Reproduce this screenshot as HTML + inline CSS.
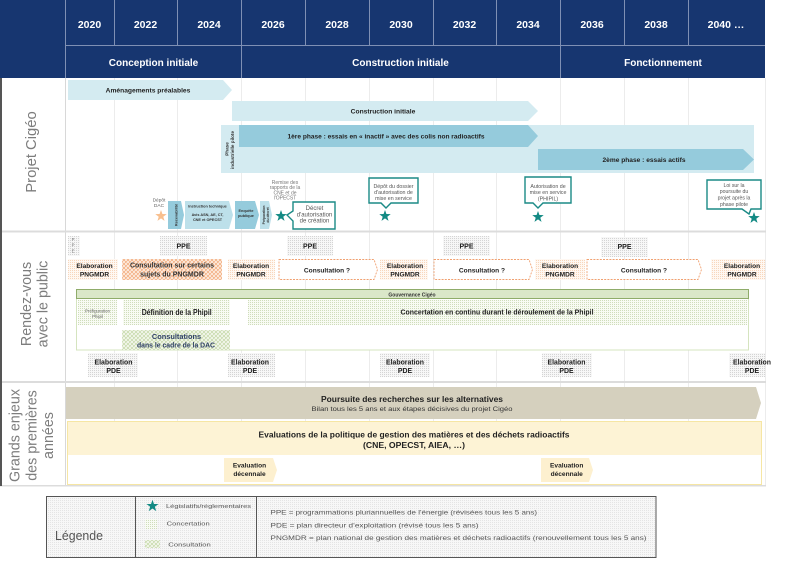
<!DOCTYPE html>
<html><head><meta charset="utf-8"><style>
html,body{margin:0;padding:0;background:#fff;}
body{width:800px;height:559px;overflow:hidden;}
svg text{font-family:"Liberation Sans",Arial,sans-serif;}
.b{font-weight:bold;}
</style></head><body>
<svg width="800" height="559" viewBox="0 0 800 559" xmlns="http://www.w3.org/2000/svg">
<defs>
<pattern id="dg" width="2" height="2" patternUnits="userSpaceOnUse"><rect width="2" height="2" fill="#f7f7f7"/><rect width="1" height="1" fill="#d4d4d4"/></pattern>
<pattern id="dl" width="2" height="2" patternUnits="userSpaceOnUse"><rect width="2" height="2" fill="#f7f7f7"/><rect width="1" height="1" fill="#e4e4e4"/></pattern>
<pattern id="do" width="2" height="2" patternUnits="userSpaceOnUse"><rect width="2" height="2" fill="#fff8f2"/><rect width="1" height="1" fill="#f7d6bc"/></pattern>
<pattern id="dgr" width="2" height="2" patternUnits="userSpaceOnUse"><rect width="2" height="2" fill="#f8fbf3"/><rect width="1" height="1" fill="#cfdcbb"/></pattern>
<pattern id="ho" width="4" height="4" patternUnits="userSpaceOnUse"><rect width="4" height="4" fill="#fdeee2"/><path d="M0,4L4,0M-1,1L1,-1M3,5L5,3M0,0L4,4M-1,3L1,5M3,-1L5,1" stroke="#f2a878" stroke-width="0.7"/></pattern>
<pattern id="hg" width="4" height="4" patternUnits="userSpaceOnUse"><rect width="4" height="4" fill="#f3f7ec"/><path d="M0,4L4,0M-1,1L1,-1M3,5L5,3M0,0L4,4M-1,3L1,5M3,-1L5,1" stroke="#bcd29b" stroke-width="0.6"/></pattern>
</defs>

<!-- HEADER -->
<rect x="0" y="0" width="765" height="78" fill="#173670"/>
<g stroke="#7f90b4" stroke-width="1">
<line x1="65.5" y1="0" x2="65.5" y2="78"/>
<line x1="114.5" y1="0" x2="114.5" y2="45"/>
<line x1="177.5" y1="0" x2="177.5" y2="45"/>
<line x1="241.5" y1="0" x2="241.5" y2="78"/>
<line x1="305.5" y1="0" x2="305.5" y2="45"/>
<line x1="369.5" y1="0" x2="369.5" y2="45"/>
<line x1="433.5" y1="0" x2="433.5" y2="45"/>
<line x1="496.5" y1="0" x2="496.5" y2="45"/>
<line x1="560.5" y1="0" x2="560.5" y2="78"/>
<line x1="624.5" y1="0" x2="624.5" y2="45"/>
<line x1="688.5" y1="0" x2="688.5" y2="45"/>
<line x1="65" y1="45.5" x2="765" y2="45.5"/>
</g>
<g fill="#fff" font-size="10.5" text-anchor="middle" font-weight="bold">
<text x="89.5" y="28">2020</text>
<text x="145.5" y="28">2022</text>
<text x="209" y="28">2024</text>
<text x="273" y="28">2026</text>
<text x="337" y="28">2028</text>
<text x="401" y="28">2030</text>
<text x="464.5" y="28">2032</text>
<text x="528" y="28">2034</text>
<text x="592" y="28">2036</text>
<text x="656" y="28">2038</text>
<text x="726" y="28">2040 …</text>
</g>
<g fill="#fff" font-size="10" text-anchor="middle" font-weight="bold">
<text x="153.5" y="66">Conception initiale</text>
<text x="400.5" y="66">Construction initiale</text>
<text x="663" y="66">Fonctionnement</text>
</g>

<!-- BODY GRID -->
<g stroke="#ececec" stroke-width="1">
<line x1="114.5" y1="78" x2="114.5" y2="486"/>
<line x1="177.5" y1="78" x2="177.5" y2="486"/>
<line x1="241.5" y1="78" x2="241.5" y2="486"/>
<line x1="305.5" y1="78" x2="305.5" y2="486"/>
<line x1="369.5" y1="78" x2="369.5" y2="486"/>
<line x1="433.5" y1="78" x2="433.5" y2="486"/>
<line x1="496.5" y1="78" x2="496.5" y2="486"/>
<line x1="560.5" y1="78" x2="560.5" y2="486"/>
<line x1="624.5" y1="78" x2="624.5" y2="486"/>
<line x1="688.5" y1="78" x2="688.5" y2="486"/>
<line x1="765.5" y1="78" x2="765.5" y2="486"/>
</g>
<line x1="65.5" y1="78" x2="65.5" y2="486" stroke="#d8d8d8"/>
<rect x="0" y="230.5" width="766" height="2" fill="#dcdcdc"/>
<rect x="0" y="381" width="766" height="2" fill="#dcdcdc"/>
<rect x="0" y="485" width="766" height="1.5" fill="#dcdcdc"/>
<rect x="0" y="78" width="2" height="408" fill="#555"/>

<!-- SECTION LABELS -->
<g fill="#7d7d7d" font-size="14.8">
<text transform="translate(36,152) rotate(-90)" text-anchor="middle">Projet Cigéo</text>
</g>
<g fill="#7d7d7d" font-size="14.3" text-anchor="middle">
<text transform="translate(31,304) rotate(-90)">Rendez-vous</text>
<text transform="translate(47.5,304) rotate(-90)">avec le public</text>
<text transform="translate(19.5,435.5) rotate(-90)">Grands enjeux</text>
<text transform="translate(36.5,435.5) rotate(-90)">des premières</text>
<text transform="translate(53,435.5) rotate(-90)">années</text>
</g>

<!-- PROJET CIGEO -->
<polygon points="68,80 223,80 232,90 223,100 68,100" fill="#d4ebf1"/>
<text x="148" y="92.5" font-size="6.7" font-weight="bold" text-anchor="middle" fill="#222">Aménagements préalables</text>
<polygon points="232,101 528,101 538,111 528,121 232,121" fill="#d4ebf1"/>
<text x="383" y="113.5" font-size="6.7" font-weight="bold" text-anchor="middle" fill="#222">Construction initiale</text>
<rect x="221" y="125" width="533" height="48" fill="#d4ebf1"/>
<polygon points="239,125 528,125 538,136 528,147 239,147" fill="#95cbdc"/>
<text x="386" y="138.5" font-size="6.4" font-weight="bold" text-anchor="middle" fill="#222" textLength="197" lengthAdjust="spacingAndGlyphs">1ère phase : essais en « inactif » avec des colis non radioactifs</text>
<polygon points="538,149 743,149 754,159.5 743,170 538,170" fill="#95cbdc"/>
<text x="644" y="162" font-size="6.4" font-weight="bold" text-anchor="middle" fill="#222" textLength="83" lengthAdjust="spacingAndGlyphs">2ème phase : essais actifs</text>
<g font-size="4.6" font-weight="bold" fill="#333" text-anchor="middle">
<text transform="translate(228.5,149) rotate(-90)">Phase</text>
<text transform="translate(234,150) rotate(-90)">industrielle pilote</text>
</g>

<!-- DAC steps -->
<g fill="#666" font-size="4.8" text-anchor="middle">
<text x="159" y="201.5">Dépôt</text>
<text x="159" y="207">DAC</text>
</g>
<polygon transform="translate(161,216)" points="0,-6 1.41,-1.94 5.71,-1.85 2.28,0.74 3.53,4.85 0,2.4 -3.53,4.85 -2.28,0.74 -5.71,-1.85 -1.41,-1.94" fill="#f8bf8e"/>
<polygon points="168,201 181,201 184,215 181,229 168,229" fill="#95cbdc"/>
<polygon points="185,201 229,201 233,215 229,229 185,229" fill="#bde0ea"/>
<polygon points="235,201 255,201 259,215 255,229 235,229" fill="#95cbdc"/>
<polygon points="260,201 269,201 272,215 269,229 260,229" fill="#bde0ea"/>
<g fill="#333" font-weight="bold" text-anchor="middle">
<text transform="translate(177.5,215) rotate(-90)" font-size="3.8">Recevabilité</text>
<text x="207.5" y="207.5" font-size="3.8">Instruction technique</text>
<text x="207.5" y="216" font-size="3.8">Avis ASN, AE, CT,</text>
<text x="207.5" y="221" font-size="3.8">CNE et OPECST</text>
<text x="246" y="212" font-size="3.8">Enquête</text>
<text x="246" y="217" font-size="3.8">publique</text>
<text transform="translate(265,215) rotate(-90)" font-size="3.4">Préparation</text>
<text transform="translate(269,215) rotate(-90)" font-size="3.4">du décret</text>
</g>
<g fill="#777" font-size="5" text-anchor="middle">
<text x="285" y="184">Remise des</text>
<text x="285" y="189.2">rapports de la</text>
<text x="285" y="194.4">CNE et de</text>
<text x="285" y="199.6">l'OPECST</text>
</g>
<polygon transform="translate(281,216)" points="0,-6 1.41,-1.94 5.71,-1.85 2.28,0.74 3.53,4.85 0,2.4 -3.53,4.85 -2.28,0.74 -5.71,-1.85 -1.41,-1.94" fill="#138a84"/>
<path d="M293,202 H335 V229 H293 V221 L287,215 L293,211 Z" fill="#fff" stroke="#1b8a86" stroke-width="1.4"/>
<g fill="#555" font-size="6" text-anchor="middle">
<text x="314.5" y="210">Décret</text>
<text x="314.5" y="216.3">d'autorisation</text>
<text x="314.5" y="222.6">de création</text>
</g>

<path d="M369,178 H418 V203 H391 L386,208 L381,203 H369 Z" fill="#fff" stroke="#1b8a86" stroke-width="1.4"/>
<g fill="#555" font-size="5.3" text-anchor="middle">
<text x="393.5" y="188">Dépôt du dossier</text>
<text x="393.5" y="194">d'autorisation de</text>
<text x="393.5" y="200">mise en service</text>
</g>
<polygon transform="translate(385,216)" points="0,-6 1.41,-1.94 5.71,-1.85 2.28,0.74 3.53,4.85 0,2.4 -3.53,4.85 -2.28,0.74 -5.71,-1.85 -1.41,-1.94" fill="#138a84"/>

<path d="M525,177 H571 V203 H543 L538,208 L533,203 H525 Z" fill="#fff" stroke="#1b8a86" stroke-width="1.4"/>
<g fill="#555" font-size="5.3" text-anchor="middle">
<text x="548" y="188">Autorisation de</text>
<text x="548" y="194">mise en service</text>
<text x="548" y="200.5">(PHIPIL)</text>
</g>
<polygon transform="translate(538,217)" points="0,-6 1.41,-1.94 5.71,-1.85 2.28,0.74 3.53,4.85 0,2.4 -3.53,4.85 -2.28,0.74 -5.71,-1.85 -1.41,-1.94" fill="#138a84"/>

<path d="M707,180 H761 V209 H751 L749,214 L742,209 H707 Z" fill="#fff" stroke="#1b8a86" stroke-width="1.4"/>
<g fill="#555" font-size="5.2" text-anchor="middle">
<text x="734" y="187">Loi sur la</text>
<text x="734" y="193">poursuite du</text>
<text x="734" y="199.5">projet après la</text>
<text x="734" y="206">phase pilote</text>
</g>
<polygon transform="translate(754,218)" points="0,-6 1.41,-1.94 5.71,-1.85 2.28,0.74 3.53,4.85 0,2.4 -3.53,4.85 -2.28,0.74 -5.71,-1.85 -1.41,-1.94" fill="#138a84"/>

<!-- RENDEZ-VOUS -->
<rect x="68" y="236" width="12" height="20" fill="url(#dg)"/>
<g fill="#777" font-size="4.2" text-anchor="middle">
<text x="73" y="241">P</text><text x="73" y="246.5">P</text><text x="73" y="252.5">E</text>
</g>
<rect x="160" y="236" width="47" height="20" fill="url(#dg)"/>
<rect x="287" y="236" width="46" height="20" fill="url(#dg)"/>
<rect x="443" y="236" width="47" height="20" fill="url(#dg)"/>
<rect x="601" y="237" width="47" height="20" fill="url(#dg)"/>
<g fill="#222" font-size="7" font-weight="bold" text-anchor="middle">
<text x="183.5" y="248.5">PPE</text>
<text x="310" y="248.5">PPE</text>
<text x="466.5" y="248.5">PPE</text>
<text x="624.5" y="249">PPE</text>
</g>

<rect x="68" y="259" width="50" height="21" fill="url(#do)"/>
<rect x="228" y="259" width="47" height="21" fill="url(#do)"/>
<rect x="380" y="259" width="48" height="21" fill="url(#do)"/>
<rect x="535" y="259" width="50" height="21" fill="url(#do)"/>
<rect x="711" y="259" width="54" height="21" fill="url(#do)"/>
<rect x="122" y="259" width="100" height="21" fill="url(#ho)"/>
<g fill="#fff" stroke="#f0a070" stroke-width="0.9" stroke-dasharray="2,1.2">
<polygon points="279,259.5 374,259.5 377.5,269.5 374,279.5 279,279.5"/>
<polygon points="434,259.5 529,259.5 532.5,269.5 529,279.5 434,279.5"/>
<polygon points="587,259.5 698,259.5 701.5,269.5 698,279.5 587,279.5"/>
</g>
<g fill="#222" font-size="6.6" font-weight="bold" text-anchor="middle">
<text x="94.5" y="268">Elaboration</text><text x="94.5" y="276.5">PNGMDR</text>
<text x="251" y="268">Elaboration</text><text x="251" y="276.5">PNGMDR</text>
<text x="405" y="268">Elaboration</text><text x="405" y="276.5">PNGMDR</text>
<text x="560" y="268">Elaboration</text><text x="560" y="276.5">PNGMDR</text>
<text x="742" y="268">Elaboration</text><text x="742" y="276.5">PNGMDR</text>
<text x="327" y="272.5">Consultation ?</text>
<text x="482" y="272.5">Consultation ?</text>
<text x="644" y="272.5">Consultation ?</text>
</g>
<g fill="#333" font-size="7" font-weight="bold" text-anchor="middle">
<text x="172" y="267.5" textLength="84" lengthAdjust="spacingAndGlyphs">Consultation sur certains</text>
<text x="172" y="276.5">sujets du PNGMDR</text>
</g>

<!-- Gouvernance -->
<rect x="76.5" y="289.5" width="672" height="60.5" fill="#fff" stroke="#d5e4bf" stroke-width="1"/>
<rect x="76.5" y="289.5" width="672" height="9" fill="#dae7c9" stroke="#8fac6a" stroke-width="1"/>
<text x="412" y="296.3" font-size="5" font-weight="bold" fill="#333" text-anchor="middle">Gouvernance Cigéo</text>
<rect x="78" y="300" width="39" height="25" fill="url(#dgr)"/>
<rect x="123" y="300" width="107" height="25" fill="url(#dgr)"/>
<rect x="248" y="300" width="499" height="25" fill="url(#dgr)"/>
<rect x="122" y="330" width="108" height="20" fill="url(#hg)"/>
<g fill="#666" font-size="4.4" text-anchor="middle">
<text x="97.5" y="312.5">Préfiguration</text>
<text x="97.5" y="317.8">Phipil</text>
</g>
<text x="176.7" y="315" font-size="7.8" font-weight="bold" fill="#222" text-anchor="middle" textLength="70" lengthAdjust="spacingAndGlyphs">Définition de la Phipil</text>
<text x="497" y="314.5" font-size="7.4" font-weight="bold" fill="#222" text-anchor="middle" textLength="193" lengthAdjust="spacingAndGlyphs">Concertation en continu durant le déroulement de la Phipil</text>
<g fill="#2f4166" font-size="7.4" font-weight="bold" text-anchor="middle">
<text x="176.5" y="339">Consultations</text>
<text x="176" y="347.3" textLength="78" lengthAdjust="spacingAndGlyphs">dans le cadre de la DAC</text>
</g>

<!-- PDE -->
<rect x="88" y="353" width="50" height="24" fill="url(#dg)"/>
<rect x="228" y="353" width="47" height="24" fill="url(#dg)"/>
<rect x="380" y="353" width="50" height="24" fill="url(#dg)"/>
<rect x="542" y="353" width="50" height="24" fill="url(#dg)"/>
<rect x="729" y="353" width="36" height="24" fill="url(#dg)"/>
<g fill="#222" font-size="6.9" font-weight="bold" text-anchor="middle">
<text x="113.5" y="364.5">Elaboration</text><text x="113.5" y="373">PDE</text>
<text x="250" y="364.5">Elaboration</text><text x="250" y="373">PDE</text>
<text x="405" y="364.5">Elaboration</text><text x="405" y="373">PDE</text>
<text x="566.5" y="364.5">Elaboration</text><text x="566.5" y="373">PDE</text>
<text x="752" y="364.5">Elaboration</text><text x="752" y="373">PDE</text>
</g>

<!-- GRANDS ENJEUX -->
<polygon points="66,387 756,387 761,403 756,419 66,419" fill="#d5d0be"/>
<text x="412" y="402" font-size="8" font-weight="bold" fill="#222" text-anchor="middle" textLength="182" lengthAdjust="spacingAndGlyphs">Poursuite des recherches sur les alternatives</text>
<text x="412" y="411" font-size="6.3" fill="#333" text-anchor="middle" textLength="201" lengthAdjust="spacingAndGlyphs">Bilan tous les 5 ans et aux étapes décisives du projet Cigéo</text>
<rect x="67.5" y="421.5" width="694" height="63" fill="#fff" stroke="#f6e6a4" stroke-width="1"/>
<rect x="68" y="422" width="693" height="33" fill="#fdf3d5"/>
<text x="414" y="437.5" font-size="8" font-weight="bold" fill="#222" text-anchor="middle" textLength="311" lengthAdjust="spacingAndGlyphs">Evaluations de la politique de gestion des matières et des déchets radioactifs</text>
<text x="414" y="447.8" font-size="8" font-weight="bold" fill="#222" text-anchor="middle" textLength="102" lengthAdjust="spacingAndGlyphs">(CNE, OPECST, AIEA, …)</text>
<polygon points="224,458 273,458 277,470 273,482 224,482" fill="#fdf0cf"/>
<polygon points="541,458 589,458 593,470 589,482 541,482" fill="#fdf0cf"/>
<g fill="#222" font-size="6.6" font-weight="bold" text-anchor="middle">
<text x="249.5" y="467.5">Evaluation</text><text x="249.5" y="476">décennale</text>
<text x="566.7" y="467.5">Evaluation</text><text x="566.7" y="476">décennale</text>
</g>

<!-- LEGEND -->
<rect x="46.5" y="496.5" width="609.5" height="61" fill="url(#dl)" stroke="#555" stroke-width="1"/>
<line x1="135.5" y1="496.5" x2="135.5" y2="557.5" stroke="#555"/>
<line x1="256.5" y1="496.5" x2="256.5" y2="557.5" stroke="#555"/>
<text x="55" y="540" font-size="12.5" fill="#555" textLength="48" lengthAdjust="spacingAndGlyphs">Légende</text>
<polygon transform="translate(152.5,506) scale(1.05)" points="0,-6 1.41,-1.94 5.71,-1.85 2.28,0.74 3.53,4.85 0,2.4 -3.53,4.85 -2.28,0.74 -5.71,-1.85 -1.41,-1.94" fill="#138a84"/>
<rect x="145" y="519" width="12" height="10" fill="url(#dgr)"/>
<rect x="145" y="540" width="15" height="8" fill="url(#hg)"/>
<g fill="#555" font-size="5.8">
<text x="166" y="508" textLength="85" lengthAdjust="spacingAndGlyphs">Législatifs/réglementaires</text>
<text x="166.7" y="525.5" textLength="43" lengthAdjust="spacingAndGlyphs">Concertation</text>
<text x="168.3" y="546.5" textLength="42.5" lengthAdjust="spacingAndGlyphs">Consultation</text>
</g>
<g fill="#555" font-size="6.5">
<text x="270.5" y="514.5" textLength="266.5" lengthAdjust="spacingAndGlyphs">PPE = programmations pluriannuelles de l'énergie (révisées tous les 5 ans)</text>
<text x="270.5" y="527.3" textLength="208" lengthAdjust="spacingAndGlyphs">PDE = plan directeur d’exploitation (révisé tous les 5 ans)</text>
<text x="270.5" y="540" textLength="376" lengthAdjust="spacingAndGlyphs">PNGMDR = plan national de gestion des matières et déchets radioactifs (renouvellement tous les 5 ans)</text>
</g>
</svg>
</body></html>
